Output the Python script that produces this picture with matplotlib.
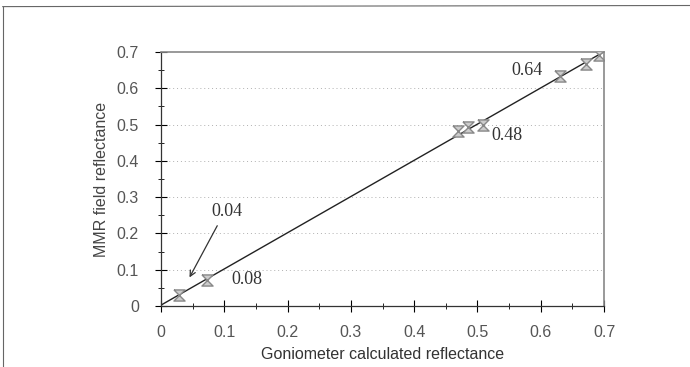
import numpy as np
import matplotlib
matplotlib.use("Agg")
import matplotlib.pyplot as plt
from matplotlib.path import Path
from matplotlib.lines import Line2D

# Reflectance measurements
goniometer = [0.028, 0.072, 0.470, 0.485, 0.509, 0.630, 0.671, 0.692]
mmr_field = [0.030, 0.072, 0.482, 0.492, 0.499, 0.634, 0.668, 0.691]

# Callout labels
label_text = ["0.04", "0.08", "0.48", "0.64"]
label_x = [0.104, 0.135, 0.547, 0.579]
label_y = [0.260, 0.074, 0.471, 0.650]

plt.rcParams['font.family'] = ['Liberation Sans', 'DejaVu Sans']

fig = plt.figure(figsize=(6.9, 3.67), dpi=100)
ax = fig.add_axes([0.2333, 0.1662, 0.6421, 0.6921])

# Least-squares line through the points
slope, intercept = np.polyfit(goniometer, mmr_field, 1)
xs = np.array([0.0, 0.7])
ax.plot(xs, slope * xs + intercept, color='#222222', linewidth=1.0, zorder=2)

# Hourglass-shaped error markers (caps plus crossed diagonals)
hourglass = Path([(-1, 1), (1, 1), (-1, -1), (1, -1), (-1, 1)],
                 [Path.MOVETO, Path.LINETO, Path.LINETO, Path.LINETO, Path.LINETO])
ax.plot(goniometer, mmr_field, linestyle='none', marker=hourglass,
        markersize=8, markerfacecolor='#cccccc', markeredgecolor='#888888',
        markeredgewidth=1.0, zorder=3)

# Value callouts
for t, x, y in zip(label_text, label_x, label_y):
    ax.text(x, y, t, family='Liberation Serif', fontsize=13, color='#333333',
            ha='center', va='center')
ax.annotate("", xy=(0.043, 0.072), xytext=(0.091, 0.228),
            arrowprops=dict(arrowstyle='->', color='#333333', lw=0.9))

ax.set_xlim(0, 0.7)
ax.set_ylim(0, 0.7)
ax.set_xticks(np.arange(0, 0.71, 0.1))
ax.set_yticks(np.arange(0, 0.71, 0.1))
ax.set_xticks(np.arange(0.05, 0.7, 0.1), minor=True)
ax.set_yticks(np.arange(0.05, 0.7, 0.1), minor=True)
ax.xaxis.set_major_formatter(plt.FuncFormatter(lambda v, p: f"{v:g}"))
ax.yaxis.set_major_formatter(plt.FuncFormatter(lambda v, p: f"{v:g}"))
ax.tick_params(which='major', direction='inout', length=8, width=0.8,
               labelsize=11.5, labelcolor='#555555', pad=10)
ax.tick_params(which='minor', direction='inout', length=5, width=0.6)
ax.tick_params(axis='y', which='major', pad=12)

# Dotted horizontal grid
for y in np.arange(0.1, 0.65, 0.1):
    ax.axhline(y, color='#b0b0b0', linestyle=(0, (1, 3)), linewidth=0.7, zorder=1)

for side in ['top', 'right']:
    ax.spines[side].set_color('#888888')
    ax.spines[side].set_linewidth(1.2)
for side in ['left', 'bottom']:
    ax.spines[side].set_color('#333333')
    ax.spines[side].set_linewidth(0.9)

ax.set_xlabel("Goniometer calculated reflectance", fontsize=11.5, color='#333333', labelpad=5)
ax.set_ylabel("MMR field reflectance", fontsize=11.5, color='#444444', labelpad=5)

# Outer border of the panel
fig.add_artist(Line2D([0.004, 0.004], [0.0, 0.982], color='#666666', linewidth=0.8))
fig.add_artist(Line2D([0.004, 1.0], [0.982, 0.985], color='#666666', linewidth=0.8))

fig.savefig("out.png", dpi=100)
